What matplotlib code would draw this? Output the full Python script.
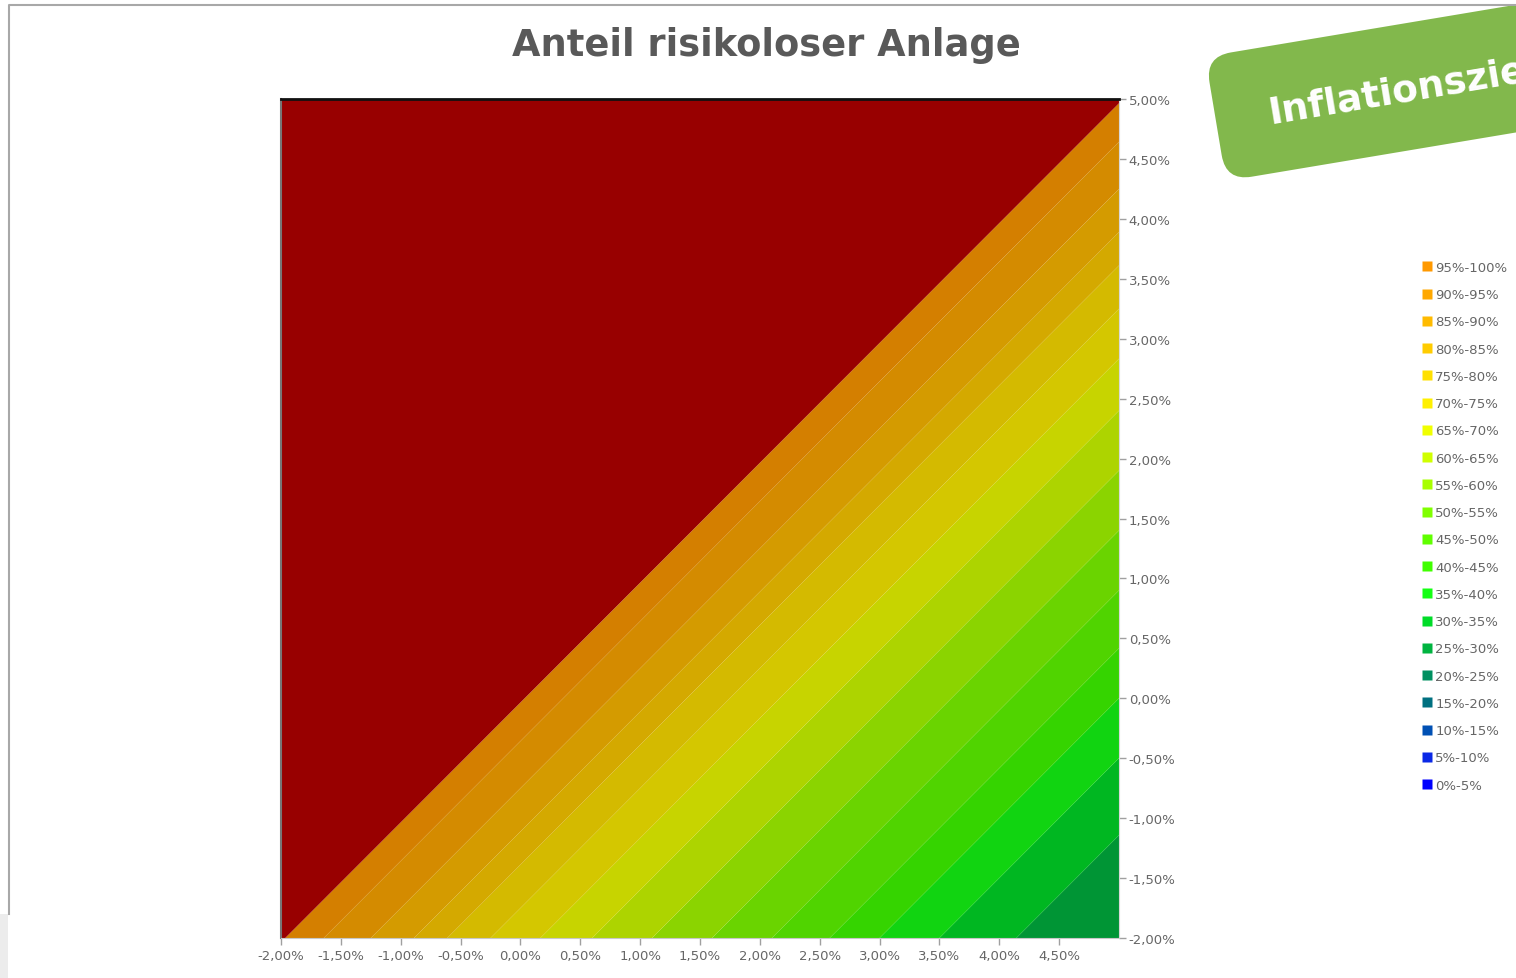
import matplotlib
matplotlib.use('Agg')
import matplotlib.pyplot as plt
import numpy as np
from matplotlib.lines import Line2D
from matplotlib.patches import FancyBboxPatch, Rectangle
from matplotlib.transforms import Affine2D, IdentityTransform

# Achsen: Rendite / Inflation in Prozentpunkten
x_vals = [-2.0, -1.5, -1.0, -0.5, 0.0, 0.5, 1.0, 1.5, 2.0, 2.5, 3.0, 3.5, 4.0, 4.5, 5.0]
y_vals = [-2.0, -1.5, -1.0, -0.5, 0.0, 0.5, 1.0, 1.5, 2.0, 2.5, 3.0, 3.5, 4.0, 4.5, 5.0]

# Anteil risikoloser Anlage in %, Zeilen = y (von -2% bis 5%), Spalten = x
share = [
    [100, 93, 87, 78, 72, 66, 61, 56, 51, 46, 40, 35, 31, 27.5, 25.5],
    [100, 100, 93, 87, 78, 72, 66, 61, 56, 51, 46, 40, 35, 31, 27.5],
    [100, 100, 100, 93, 87, 78, 72, 66, 61, 56, 51, 46, 40, 35, 31],
    [100, 100, 100, 100, 93, 87, 78, 72, 66, 61, 56, 51, 46, 40, 35],
    [100, 100, 100, 100, 100, 93, 87, 78, 72, 66, 61, 56, 51, 46, 40],
    [100, 100, 100, 100, 100, 100, 93, 87, 78, 72, 66, 61, 56, 51, 46],
    [100, 100, 100, 100, 100, 100, 100, 93, 87, 78, 72, 66, 61, 56, 51],
    [100, 100, 100, 100, 100, 100, 100, 100, 93, 87, 78, 72, 66, 61, 56],
    [100, 100, 100, 100, 100, 100, 100, 100, 100, 93, 87, 78, 72, 66, 61],
    [100, 100, 100, 100, 100, 100, 100, 100, 100, 100, 93, 87, 78, 72, 66],
    [100, 100, 100, 100, 100, 100, 100, 100, 100, 100, 100, 93, 87, 78, 72],
    [100, 100, 100, 100, 100, 100, 100, 100, 100, 100, 100, 100, 93, 87, 78],
    [100, 100, 100, 100, 100, 100, 100, 100, 100, 100, 100, 100, 100, 93, 87],
    [100, 100, 100, 100, 100, 100, 100, 100, 100, 100, 100, 100, 100, 100, 93],
    [100, 100, 100, 100, 100, 100, 100, 100, 100, 100, 100, 100, 100, 100, 100],
]

band_labels = ['0%-5%', '5%-10%', '10%-15%', '15%-20%', '20%-25%', '25%-30%', '30%-35%',
               '35%-40%', '40%-45%', '45%-50%', '50%-55%', '55%-60%', '60%-65%', '65%-70%',
               '70%-75%', '75%-80%', '80%-85%', '85%-90%', '90%-95%', '95%-100%']
band_colors = ['#0000ff', '#0a28e6', '#0050b4', '#007080', '#009060', '#00b440', '#00dc28',
               '#14ff14', '#40ff00', '#60ff00', '#80ff00', '#a8ff00', '#d0ff00', '#f0ff00',
               '#fff000', '#ffe000', '#ffcc00', '#ffbb00', '#ffa800', '#ff9900']

x_ticks = [-2.0, -1.5, -1.0, -0.5, 0.0, 0.5, 1.0, 1.5, 2.0, 2.5, 3.0, 3.5, 4.0, 4.5]
x_ticklabels = ['-2,00%', '-1,50%', '-1,00%', '-0,50%', '0,00%', '0,50%', '1,00%',
                '1,50%', '2,00%', '2,50%', '3,00%', '3,50%', '4,00%', '4,50%']
y_ticks = [-2.0, -1.5, -1.0, -0.5, 0.0, 0.5, 1.0, 1.5, 2.0, 2.5, 3.0, 3.5, 4.0, 4.5, 5.0]
y_ticklabels = ['-2,00%', '-1,50%', '-1,00%', '-0,50%', '0,00%', '0,50%', '1,00%', '1,50%',
                '2,00%', '2,50%', '3,00%', '3,50%', '4,00%', '4,50%', '5,00%']

W, H = 1516, 979
fig = plt.figure(figsize=(W / 100, H / 100), dpi=100)
fig.patch.set_facecolor('white')

ax = fig.add_axes([281 / W, 1 - 939 / H, 838 / W, 839 / H])

# Flaeche etwas dunkler als die Legende (Schattierung wie im Original)
shade = 0.83
plot_colors = [tuple(c * shade for c in matplotlib.colors.to_rgb(col)) for col in band_colors]
plot_colors.append('#980000')  # 100 % risikolos
levels = [0, 5, 10, 15, 20, 25, 30, 35, 40, 45, 50, 55, 60, 65, 70, 75, 80, 85, 90, 95, 99.5, 100.5]

X, Y = np.meshgrid(x_vals, y_vals)
Z = np.array(share)
ax.contourf(X, Y, Z, levels=levels, colors=plot_colors, antialiased=True)

ax.set_xlim(-2, 5)
ax.set_ylim(-2, 5)
ax.set_xticks(x_ticks)
ax.set_xticklabels(x_ticklabels)
ax.set_yticks(y_ticks)
ax.set_yticklabels(y_ticklabels)
ax.yaxis.tick_right()
ax.tick_params(axis='both', colors='#a0a0a0', labelcolor='#666666', labelsize=9.5, length=5, width=1)
ax.tick_params(axis='x', pad=3)
ax.tick_params(axis='y', pad=2)

ax.spines['top'].set_color('#111111')
ax.spines['top'].set_linewidth(2)
ax.spines['left'].set_color('#777777')
ax.spines['left'].set_linewidth(1.5)
ax.spines['bottom'].set_color('#c8c8c8')
ax.spines['right'].set_color('#d8d8d8')

fig.text(766 / W, 1 - 46 / H, 'Anteil risikoloser Anlage', ha='center', va='center',
         fontsize=26.5, fontweight='bold', color='#595959', family='DejaVu Sans')

# Legende
handles = [Line2D([], [], marker='s', linestyle='none', markersize=6.5,
                  markerfacecolor=c, markeredgecolor='none') for c in band_colors]
leg = fig.legend(handles[::-1], band_labels[::-1], loc='upper left',
                 bbox_to_anchor=(1422 / W, 1 - 262 / H), frameon=False,
                 fontsize=9.5, labelspacing=1.08, handlelength=0.7, handletextpad=0.3,
                 borderaxespad=0, borderpad=0)
for t in leg.get_texts():
    t.set_color('#666666')

# aeusserer Rahmen (nur oben und links sichtbar)
fig.add_artist(Line2D([9, 9, 1516], [979 - 915, 979 - 6, 979 - 6], transform=IdentityTransform(),
                      color='#a8a8a8', linewidth=1.5))
fig.add_artist(Rectangle((0, 0), 8, 979 - 915, transform=IdentityTransform(),
                         facecolor='#ececec', edgecolor='none'))

# gruenes Banner oben rechts
ang = 9.5
rot = Affine2D().rotate_deg_around(1226, 979 - 182, ang)
banner = FancyBboxPatch((1226, 979 - 182), 500, 126,
                        boxstyle='round,pad=0,rounding_size=26',
                        transform=rot + IdentityTransform(),
                        facecolor='#82b84c', edgecolor='none')
fig.add_artist(banner)
fig.text(1270 / W, 1 - 124 / H, 'Inflationsziel', rotation=ang, rotation_mode='anchor',
         ha='left', va='baseline', fontsize=27, fontweight='bold', color='white',
         family='DejaVu Sans')

fig.savefig('out.png', dpi=100)
